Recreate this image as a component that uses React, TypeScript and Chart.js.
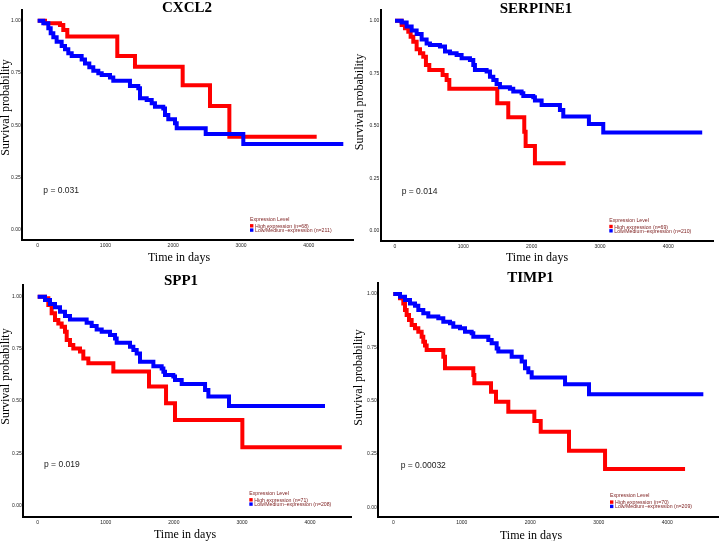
import React, { useEffect, useRef } from "react";
import { Chart, registerables } from "chart.js";

Chart.register(...registerables);

// ---------- data ----------
const genes = ["CXCL2", "SERPINE1", "SPP1", "TIMP1"];
const pValues = ["p = 0.031", "p = 0.014", "p = 0.019", "p = 0.00032"];
const highN = [68, 69, 71, 70];
const lowN = [211, 210, 208, 209];
const xTickValues = [0, 1000, 2000, 3000, 4000];
const yTickValues = [0, 0.25, 0.5, 0.75, 1];
const legendTitle = "Expression Level";
const xAxisTitle = "Time in days";
const yAxisTitle = "Survival probability";

const cxcl2HighDays = [0, 108, 329, 378, 437, 1175, 1436, 2140, 2543, 2829, 4118];
const cxcl2HighSurv = [1, 0.988, 0.979, 0.956, 0.924, 0.831, 0.78, 0.691, 0.592, 0.446, 0.446];
const cxcl2LowDays = [0, 83, 157, 192, 231, 280, 354, 403, 452, 502, 649, 698, 762, 821, 895, 945, 1067, 1116, 1362, 1485, 1510, 1609, 1683, 1731, 1854, 1879, 1928, 2027, 2052, 2480, 3035, 4511];
const cxcl2LowSurv = [1, 0.988, 0.964, 0.94, 0.921, 0.9, 0.879, 0.863, 0.844, 0.831, 0.815, 0.796, 0.777, 0.761, 0.749, 0.741, 0.729, 0.713, 0.688, 0.677, 0.629, 0.621, 0.605, 0.589, 0.581, 0.549, 0.529, 0.51, 0.486, 0.459, 0.411, 0.411];

const serpine1HighDays = [0, 98, 146, 195, 229, 268, 317, 366, 414, 453, 502, 697, 756, 795, 1497, 1658, 1892, 1912, 2048, 2497];
const serpine1HighSurv = [1, 0.98, 0.964, 0.948, 0.924, 0.9, 0.864, 0.845, 0.829, 0.789, 0.766, 0.742, 0.718, 0.677, 0.607, 0.541, 0.472, 0.404, 0.322, 0.322];
const serpine1LowDays = [0, 98, 171, 244, 317, 390, 463, 512, 658, 732, 805, 902, 975, 1097, 1146, 1170, 1341, 1390, 1439, 1487, 1536, 1682, 1731, 1853, 1878, 2024, 2048, 2146, 2414, 2463, 2838, 3048, 4496];
const serpine1LowSurv = [1, 0.991, 0.972, 0.953, 0.937, 0.911, 0.892, 0.884, 0.877, 0.853, 0.845, 0.837, 0.821, 0.813, 0.789, 0.766, 0.758, 0.734, 0.718, 0.699, 0.683, 0.677, 0.663, 0.655, 0.642, 0.636, 0.62, 0.599, 0.575, 0.544, 0.509, 0.468, 0.468];

const spp1HighDays = [0, 107, 156, 205, 254, 303, 352, 401, 426, 474, 523, 621, 670, 744, 1111, 1635, 1885, 2017, 3006, 4466];
const spp1HighSurv = [1, 0.992, 0.96, 0.92, 0.888, 0.872, 0.856, 0.832, 0.792, 0.768, 0.752, 0.737, 0.704, 0.681, 0.641, 0.569, 0.489, 0.409, 0.278, 0.278];
const spp1LowDays = [0, 107, 181, 254, 328, 401, 474, 719, 793, 866, 940, 1062, 1136, 1160, 1356, 1405, 1454, 1503, 1699, 1821, 1846, 1870, 1992, 2017, 2115, 2458, 2507, 2810, 4220];
const spp1LowSurv = [1, 0.984, 0.965, 0.949, 0.928, 0.907, 0.891, 0.875, 0.859, 0.843, 0.832, 0.816, 0.8, 0.779, 0.76, 0.744, 0.728, 0.688, 0.667, 0.656, 0.64, 0.624, 0.617, 0.601, 0.581, 0.553, 0.521, 0.476, 0.476];

const timp1HighDays = [0, 98, 146, 171, 195, 229, 268, 317, 365, 414, 438, 463, 487, 730, 755, 1168, 1183, 1426, 1499, 1679, 2059, 2152, 2565, 3091, 4259];
const timp1HighSurv = [1, 0.98, 0.956, 0.925, 0.902, 0.878, 0.855, 0.839, 0.823, 0.8, 0.776, 0.758, 0.737, 0.706, 0.652, 0.62, 0.581, 0.542, 0.495, 0.448, 0.405, 0.354, 0.265, 0.18, 0.18];
const timp1LowDays = [0, 98, 171, 244, 317, 365, 438, 511, 657, 730, 828, 876, 974, 1047, 1144, 1168, 1387, 1436, 1509, 1533, 1728, 1874, 1923, 1971, 2020, 2507, 2857, 4526];
const timp1LowSurv = [1, 0.987, 0.972, 0.956, 0.945, 0.925, 0.91, 0.894, 0.886, 0.87, 0.863, 0.847, 0.839, 0.823, 0.816, 0.8, 0.784, 0.769, 0.745, 0.73, 0.706, 0.683, 0.652, 0.633, 0.608, 0.577, 0.53, 0.53];

const highDays = [cxcl2HighDays, serpine1HighDays, spp1HighDays, timp1HighDays];
const highSurv = [cxcl2HighSurv, serpine1HighSurv, spp1HighSurv, timp1HighSurv];
const lowDays = [cxcl2LowDays, serpine1LowDays, spp1LowDays, timp1LowDays];
const lowSurv = [cxcl2LowSurv, serpine1LowSurv, spp1LowSurv, timp1LowSurv];

// ---------- layout (page pixels) ----------
const PANELS = [
  { cx: 0, cy: 0, cw: 356, ch: 270, left: 22.3, right: 353, top: 10, bottom: 240, xMin: -227, xMax: 4654, yMin: -0.0478, yMax: 1.0511,
    titleX: 187, titleY: 11.7, yLabX: 6, yLabY: 107.5, xLabX: 179, xLabY: 260.7, pX: 43.3, pY: 192.7, legX: 250, legY: 221 },
  { cx: 350, cy: 0, cw: 370, ch: 270, left: 380.7, right: 713, top: 10, bottom: 240.7, xMin: -209, xMax: 4654, yMin: -0.0461, yMax: 1.0509,
    titleX: 536, titleY: 12.7, yLabX: 360, yLabY: 102, xLabX: 537, xLabY: 260.5, pX: 401.7, pY: 194, legX: 609.3, legY: 221.7 },
  { cx: 0, cy: 270, cw: 356, ch: 271, left: 23.3, right: 351.7, top: 285, bottom: 516.7, xMin: -211.5, xMax: 4612, yMin: -0.0547, yMax: 1.056,
    titleX: 181, titleY: 285, yLabX: 6, yLabY: 376.5, xLabX: 185, xLabY: 538, pX: 44, pY: 466.7, legX: 249.3, legY: 495 },
  { cx: 350, cy: 270, cw: 370, ch: 271, left: 378.3, right: 718, top: 283, bottom: 517.3, xMin: -219, xMax: 4740, yMin: -0.0469, yMax: 1.0516,
    titleX: 530.5, titleY: 282, yLabX: 359, yLabY: 377.5, xLabX: 531, xLabY: 539, pX: 400.7, pY: 467.5, legX: 610, legY: 497.3 },
];

const RED = "#FF0000";
const BLUE = "#0000FF";
const LEG_TEXT = "#7B1C1C";

function KMPanel({ idx }: { idx: number }) {
  const ref = useRef<HTMLCanvasElement | null>(null);
  const p = PANELS[idx];
  useEffect(() => {
    if (!ref.current) return;
    const textPlugin = {
      id: "kmText" + idx,
      afterDraw(chart: any) {
        const ctx = chart.ctx as CanvasRenderingContext2D;
        ctx.save();
        ctx.translate(-p.cx, -p.cy);
        // title
        ctx.fillStyle = "#000";
        ctx.font = 'bold 15px "Liberation Serif", "DejaVu Serif", serif';
        ctx.textAlign = "center";
        ctx.textBaseline = "alphabetic";
        ctx.fillText(genes[idx], p.titleX, p.titleY);
        // x label
        ctx.font = '12px "Liberation Serif", "DejaVu Serif", serif';
        ctx.fillText(xAxisTitle, p.xLabX, p.xLabY);
        // y label
        ctx.save();
        ctx.translate(p.yLabX, p.yLabY);
        ctx.rotate(-Math.PI / 2);
        ctx.textBaseline = "middle";
        ctx.fillText(yAxisTitle, 0, 0);
        ctx.restore();
        // p value
        ctx.font = '8.5px "Liberation Sans", Arial, sans-serif';
        ctx.textAlign = "left";
        ctx.fillStyle = "#222";
        ctx.fillText(pValues[idx], p.pX, p.pY);
        // legend
        ctx.font = '5.2px "Liberation Sans", Arial, sans-serif';
        ctx.fillStyle = LEG_TEXT;
        ctx.fillText(legendTitle, p.legX, p.legY);
        ctx.fillStyle = RED;
        ctx.fillRect(p.legX, p.legY + 3.1, 3.4, 3.4);
        ctx.fillStyle = BLUE;
        ctx.fillRect(p.legX, p.legY + 7.4, 3.4, 3.4);
        ctx.fillStyle = LEG_TEXT;
        ctx.fillText(`High expression (n=${highN[idx]})`, p.legX + 5, p.legY + 6.8);
        ctx.fillText(`Low/Medium\u2212expression (n=${lowN[idx]})`, p.legX + 5, p.legY + 11.1);
        ctx.restore();
      },
    };
    const toPts = (d: number[], s: number[]) => d.map((x, i) => ({ x, y: s[i] }));
    const chart = new Chart(ref.current, {
      type: "line",
      data: {
        datasets: [
          {
            label: `Low/Medium-expression (n=${lowN[idx]})`,
            data: toPts(lowDays[idx], lowSurv[idx]),
            borderColor: BLUE,
            backgroundColor: BLUE,
            borderWidth: 4,
            stepped: true,
            pointRadius: 0,
            fill: false,
            tension: 0,
          },
          {
            label: `High expression (n=${highN[idx]})`,
            data: toPts(highDays[idx], highSurv[idx]),
            borderColor: RED,
            backgroundColor: RED,
            borderWidth: 4,
            stepped: true,
            pointRadius: 0,
            fill: false,
            tension: 0,
          },
        ],
      },
      options: {
        animation: false,
        responsive: false,
        devicePixelRatio: 1,
        events: [],
        layout: {
          padding: {
            left: 0,
            top: p.top - p.cy,
            right: p.cx + p.cw - p.right,
            bottom: 0,
          },
        },
        plugins: {
          legend: { display: false },
          title: { display: false },
          tooltip: { enabled: false },
        },
        scales: {
          x: {
            type: "linear",
            min: p.xMin,
            max: p.xMax,
            afterBuildTicks: (s: any) => {
              s.ticks = xTickValues.map((v) => ({ value: v }));
            },
            afterFit: (s: any) => {
              s.height = p.cy + p.ch - p.bottom;
              s.paddingLeft = 0;
              s.paddingRight = 0;
            },
            grid: { display: false, drawTicks: false },
            border: { display: true, color: "#000", width: 2 },
            ticks: {
              autoSkip: false,
              maxRotation: 0,
              padding: 2.5,
              color: "#222",
              font: { size: 5, family: '"Liberation Sans", Arial, sans-serif' },
              callback: (v: any) => String(v),
            },
          },
          y: {
            type: "linear",
            min: p.yMin,
            max: p.yMax,
            afterBuildTicks: (s: any) => {
              s.ticks = yTickValues.map((v) => ({ value: v }));
            },
            afterFit: (s: any) => {
              s.width = p.left - p.cx;
              s.paddingTop = 0;
              s.paddingBottom = 0;
            },
            grid: { display: false, drawTicks: false },
            border: { display: true, color: "#000", width: 2 },
            ticks: {
              autoSkip: false,
              padding: 1.5,
              color: "#222",
              font: { size: 5, family: '"Liberation Sans", Arial, sans-serif' },
              callback: (v: any) => Number(v).toFixed(2),
            },
          },
        },
      },
      plugins: [textPlugin],
    } as any);
    return () => chart.destroy();
  }, [idx]);
  return (
    <canvas
      ref={ref}
      width={p.cw}
      height={p.ch}
      style={{ position: "absolute", left: p.cx, top: p.cy, width: p.cw, height: p.ch }}
    />
  );
}

export default function App() {
  return (
    <div style={{ position: "absolute", left: 0, top: 0, width: 720, height: 541, background: "#fff", overflow: "hidden" }}>
      {PANELS.map((_, i) => (
        <KMPanel key={i} idx={i} />
      ))}
    </div>
  );
}
